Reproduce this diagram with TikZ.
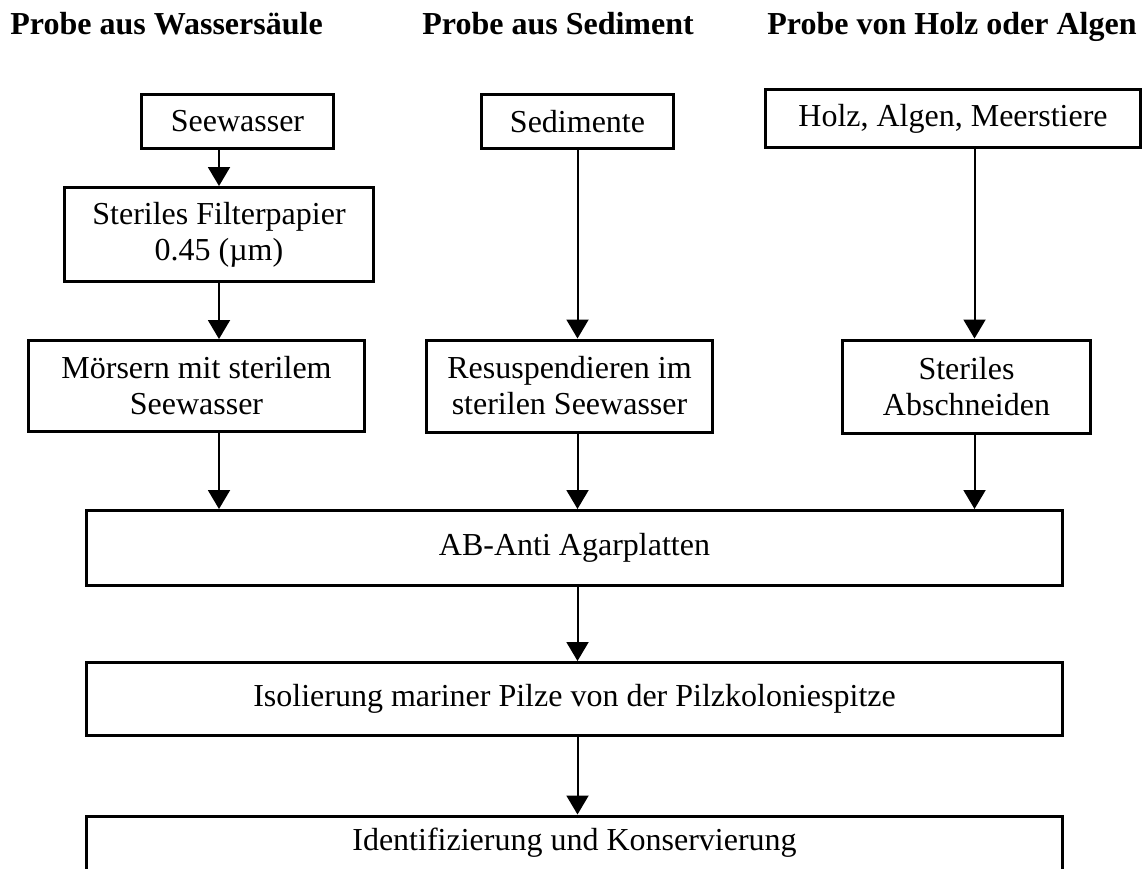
\documentclass[tikz,border=0pt]{standalone}
\usepackage{fontspec}
\setmainfont{Liberation Serif}
\usetikzlibrary{arrows.meta}
\begin{document}
\begin{tikzpicture}[x=0.5pt,y=-0.5pt,
  box/.style={draw, line width=1.5pt, inner sep=0pt, align=center, font=\fontsize{16}{18}\selectfont},
  head/.style={anchor=base west, inner sep=0pt, font=\fontsize{16}{18}\selectfont\bfseries},
  arr/.style={line width=1pt, -{Triangle[width=11pt,length=9.5pt]}}]
\useasboundingbox (0,0) rectangle (1143,868);
\fill[white] (0,0) rectangle (1143,868);

\node[head] (h1) at (10,34) {Probe aus Wassersäule};
\node[head] (h2) at (422,34) {Probe aus Sediment};
\node[head] (h3) at (767,34) {Probe von Holz oder Algen};

\node[box, minimum width=96pt, minimum height=27pt] (see) at (237.5,121.5) {Seewasser};
\node[box, minimum width=96pt, minimum height=27pt] (sed) at (577.5,121.5) {Sedimente};
\node[box, minimum width=187.5pt, minimum height=29pt] (holz) at (953,118.5) {Holz, Algen, Meerstiere};
\node[box, minimum width=154.5pt, minimum height=47pt] (fil) at (219,234.5) {Steriles Filterpapier\\0.45 (µm)};
\node[box, minimum width=168pt, minimum height=45.5pt] (mor) at (196.5,386) {Mörsern mit sterilem\\Seewasser};
\node[box, minimum width=143pt, minimum height=46pt] (res) at (569.5,386) {Resuspendieren im\\sterilen Seewasser};
\node[box, minimum width=124pt, minimum height=46.5pt] (ste) at (966.5,386.5) {Steriles\\Abschneiden};
\node[box, minimum width=488pt, minimum height=37.5pt] (ab) at (574.5,548) {AB-Anti Agarplatten};
\node[box, minimum width=488pt, minimum height=36.5pt] (iso) at (574.5,699) {Isolierung mariner Pilze von der Pilzkoloniespitze};
\node[box, minimum width=488pt, minimum height=27pt] (ide) at (574.5,843) {Identifizierung und Konservierung};

\draw[arr] (see.south -| fil.north) -- (fil.north);
\draw[arr] (fil.south) -- (fil.south |- mor.north);
\draw[arr] (sed.south) -- (sed.south |- res.north);
\draw[arr] ([xshift=10.75pt]holz.south) -- ([xshift=10.75pt]holz.south |- ste.north);
\draw[arr] (fil.south |- mor.south) -- (fil.south |- ab.north);
\draw[arr] (sed.south |- res.south) -- (sed.south |- ab.north);
\draw[arr] ([xshift=10.75pt]holz.south |- ste.south) -- ([xshift=10.75pt]holz.south |- ab.north);
\draw[arr] (sed.south |- ab.south) -- (sed.south |- iso.north);
\draw[arr] (sed.south |- iso.south) -- (sed.south |- ide.north);
\end{tikzpicture}
\end{document}
